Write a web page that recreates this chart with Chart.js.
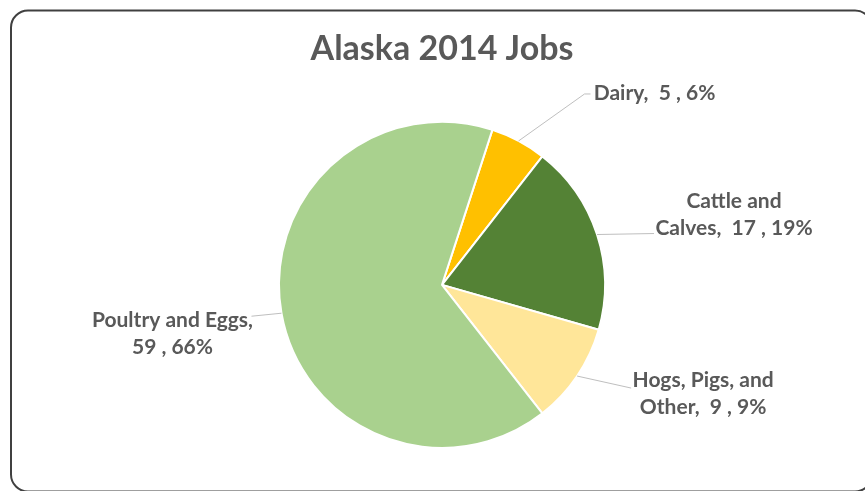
<!DOCTYPE html>
<html>
<head>
<meta charset="utf-8">
<title>Alaska 2014 Jobs</title>
<script src="https://cdn.jsdelivr.net/npm/chart.js@4/dist/chart.umd.min.js"></script>
<style>
  html, body { margin: 0; padding: 0; background: #ffffff; }
  canvas { display: block; }
</style>
</head>
<body>
<canvas id="chart" width="865" height="491"></canvas>
<script>
// Livestock sector jobs, Alaska 2014
const categories = ['Dairy', 'Cattle and Calves', 'Hogs, Pigs, and Other', 'Poultry and Eggs'];
const jobs = [5, 17, 9, 59];
const shareLabels = ['6%', '19%', '9%', '66%'];
const sliceColors = ['#FFC000', '#548235', '#FFE699', '#A9D18E'];

const TEXT_COLOR = '#595959';
const FONT = 'Lato, "Open Sans", sans-serif';

// Rounded frame around the whole chart
const framePlugin = {
  id: 'frame',
  beforeDraw(chart) {
    const ctx = chart.ctx;
    const x = 11, y = 10.5, w = 861, h = 481, r = 17;
    ctx.save();
    ctx.fillStyle = '#ffffff';
    ctx.fillRect(0, 0, chart.width, chart.height);
    ctx.beginPath();
    ctx.moveTo(x + r, y);
    ctx.lineTo(x + w - r, y);
    ctx.arcTo(x + w, y, x + w, y + r, r);
    ctx.lineTo(x + w, y + h - r);
    ctx.arcTo(x + w, y + h, x + w - r, y + h, r);
    ctx.lineTo(x + r, y + h);
    ctx.arcTo(x, y + h, x, y + h - r, r);
    ctx.lineTo(x, y + r);
    ctx.arcTo(x, y, x + r, y, r);
    ctx.closePath();
    ctx.lineWidth = 2;
    ctx.strokeStyle = '#404040';
    ctx.stroke();
    ctx.restore();
  }
};

// Data labels outside the pie, joined to their slice by a leader line
const outsideLabelsPlugin = {
  id: 'outsideLabels',
  afterDatasetsDraw(chart, args, opts) {
    const ctx = chart.ctx;
    const meta = chart.getDatasetMeta(0);
    ctx.save();
    ctx.font = `bold ${opts.size}px ${FONT}`;
    ctx.fillStyle = TEXT_COLOR;
    ctx.textBaseline = 'middle';
    meta.data.forEach((arc, i) => {
      const p = arc.getProps(['x', 'y', 'startAngle', 'endAngle', 'outerRadius'], true);
      const mid = (p.startAngle + p.endAngle) / 2;
      const ex = p.x + Math.cos(mid) * p.outerRadius;
      const ey = p.y + Math.sin(mid) * p.outerRadius;
      const lay = opts.layout[i];

      // leader line
      const lx = ex + lay.line[0];
      const ly = ey + lay.line[1];
      ctx.beginPath();
      ctx.moveTo(ex, ey);
      ctx.lineTo(lx, ly);
      if (lay.elbow) ctx.lineTo(lx + lay.elbow, ly);
      ctx.strokeStyle = '#BFBFBF';
      ctx.lineWidth = 1;
      ctx.stroke();

      // label text, wrapped after a number of category words
      const name = categories[i];
      const value = jobs[i];
      const share = shareLabels[i];
      const words = name.split(' ');
      let lines;
      if (lay.breakAt == null) {
        lines = [`${name},  ${value} , ${share}`];
      } else if (lay.breakAt >= words.length) {
        lines = [`${name},`, `${value} , ${share}`];
      } else {
        lines = [words.slice(0, lay.breakAt).join(' '),
                 `${words.slice(lay.breakAt).join(' ')},  ${value} , ${share}`];
      }
      const cx = ex + lay.box[0];
      const cy = ey + lay.box[1];
      const top = cy - (lines.length - 1) * opts.lineHeight / 2;
      ctx.textAlign = 'center';
      lines.forEach((t, k) => ctx.fillText(t, cx, top + k * opts.lineHeight));
    });
    ctx.restore();
  }
};

new Chart(document.getElementById('chart'), {
  type: 'pie',
  data: {
    labels: categories,
    datasets: [{
      data: jobs,
      backgroundColor: sliceColors,
      borderColor: '#ffffff',
      borderWidth: 2
    }]
  },
  options: {
    responsive: false,
    animation: false,
    devicePixelRatio: 1,
    rotation: 18,
    events: [],
    layout: { padding: { left: 278, right: 259, top: 0, bottom: 42 } },
    plugins: {
      legend: { display: false },
      tooltip: { enabled: false },
      title: {
        display: true,
        text: 'Alaska 2014 Jobs',
        color: TEXT_COLOR,
        font: { family: FONT, size: 34, weight: 'bold', lineHeight: 1.2 },
        padding: { top: 29, bottom: 51 }
      },
      outsideLabels: {
        size: 21,
        lineHeight: 27,
        layout: [
          { line: [66, -47], elbow: 6, box: [136, -48], breakAt: null },
          { line: [57, -1], box: [137, -20], breakAt: 2 },
          { line: [54, 12], box: [126, 18], breakAt: 3 },
          { line: [-30, 3], box: [-109, 21], breakAt: 4 }
        ]
      }
    }
  },
  plugins: [framePlugin, outsideLabelsPlugin]
});
</script>
</body>
</html>
